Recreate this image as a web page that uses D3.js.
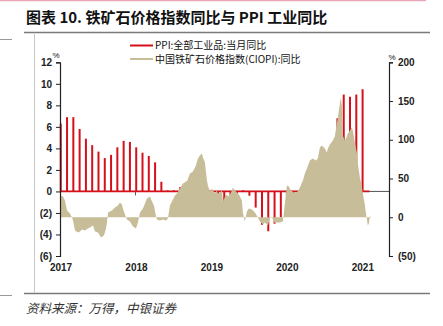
<!DOCTYPE html>
<html>
<head>
<meta charset="utf-8">
<script src="https://cdn.jsdelivr.net/npm/d3@7"></script>
<style>
	body { margin: 0; background: #fff; }
	text { font-family: "Liberation Sans", Arial, sans-serif; }
	.cjk { font-family: "Noto Sans CJK SC", sans-serif; }
</style>
</head>
<body>
<div id="chart"></div>
<script>
// ********** IRON ORE INDEX vs PPI CHART **********

// Axis ticks
const yearTicks = [2017, 2018, 2019, 2020, 2021];
const leftTicks = [12, 10, 8, 6, 4, 2, 0, -2, -4, -6];
const rightTicks = [200, 150, 100, 50, 0, -50];

// PPI monthly YoY (%) - one spike per month, first at the left edge
const ppiStart = 2017.01;
const ppiValues = [6.3, 6.9, 6.9, 5.8, 4.9, 4.3, 3.7, 3.1, 3.4, 4.1, 4.7, 4.6,
	4.1, 3.6, 3.3, 2.7, 0.9, 0.1, 0.1, 0.4, 0.9, 0.6, 0, -0.3,
	-0.8, -1.2, -1.6, -1.4, -0.5, 0.1, -0.4, -1.5, -3.1, -3.7, -3.0, -2.4,
	-2.0, -2.1, -2.1, -1.5, -0.4, 0.3, 1.7, 4.4, 6.8, 9.0, 8.8, 9.0, 9.5];
const ppiEnd = 2021.1;

// CIOPI YoY (%) - time as decimal year
const ciopiT = [2017.000, 2017.040, 2017.066, 2017.093, 2017.132, 2017.159, 2017.172, 2017.199, 2017.238, 2017.265,
	2017.291, 2017.331, 2017.371, 2017.397, 2017.437, 2017.464, 2017.503, 2017.543, 2017.583, 2017.609,
	2017.623, 2017.636, 2017.662, 2017.689, 2017.728, 2017.768, 2017.795, 2017.821, 2017.834, 2017.861,
	2017.887, 2017.927, 2017.967, 2018.007, 2018.033, 2018.060, 2018.099, 2018.126, 2018.152, 2018.192,
	2018.219, 2018.245, 2018.258, 2018.272, 2018.285, 2018.325, 2018.364, 2018.404, 2018.430, 2018.457,
	2018.483, 2018.523, 2018.550, 2018.589, 2018.629, 2018.682, 2018.722, 2018.762, 2018.801, 2018.828,
	2018.854, 2018.881, 2018.894, 2018.921, 2018.947, 2018.960, 2018.987, 2019.013, 2019.053, 2019.079,
	2019.093, 2019.119, 2019.146, 2019.159, 2019.199, 2019.238, 2019.278, 2019.291, 2019.318, 2019.344,
	2019.371, 2019.411, 2019.424, 2019.437, 2019.450, 2019.477, 2019.503, 2019.543, 2019.583, 2019.623,
	2019.649, 2019.689, 2019.715, 2019.755, 2019.781, 2019.808, 2019.834, 2019.874, 2019.914, 2019.954,
	2019.980, 2020.007, 2020.033, 2020.060, 2020.099, 2020.139, 2020.179, 2020.219, 2020.245, 2020.272,
	2020.311, 2020.351, 2020.391, 2020.417, 2020.444, 2020.470, 2020.510, 2020.536, 2020.550, 2020.576,
	2020.616, 2020.642, 2020.669, 2020.682, 2020.695, 2020.722, 2020.735, 2020.748, 2020.775, 2020.801,
	2020.815, 2020.841, 2020.868, 2020.881, 2020.907, 2020.934, 2020.947, 2020.974, 2021.000, 2021.013,
	2021.040, 2021.053, 2021.066, 2021.079, 2021.093, 2021.106, 2021.119];
const ciopiV = [28.0, 26.7, 21.6, 8.7, 4.8, -0.4, -4.3, -17.2, -19.8, -18.5,
	-15.9, -17.2, -14.6, -13.3, -10.7, -18.5, -19.8, -26.2, -23.6, -14.6,
	-6.8, 6.1, 7.4, 8.7, 12.5, 15.1, 19.0, 16.4, 11.2, 3.5,
	-3.0, -5.6, -12.0, -14.6, -6.8, 6.1, 11.2, 17.7, 24.2, 26.7,
	20.3, 15.1, 8.7, 0.9, -3.0, -4.3, -3.0, -4.3, -1.7, 15.1,
	20.3, 28.0, 30.6, 37.1, 43.5, 46.1, 56.5, 59.0, 66.8, 75.8,
	79.7, 82.3, 77.1, 70.7, 47.4, 41.0, 33.2, 37.1, 30.6, 34.5,
	30.6, 31.9, 34.5, 20.3, 29.3, 26.7, 34.5, 38.4, 34.5, 31.9,
	29.3, 21.6, 6.1, -0.4, -5.6, 7.4, 11.2, 9.9, 6.1, -0.4,
	-5.6, -9.4, -6.8, -10.7, -1.7, 0.9, -6.8, -6.8, -6.8, -5.6,
	17.7, 41.0, 39.7, 34.5, 31.9, 31.9, 38.4, 47.4, 56.5, 62.9,
	73.2, 75.8, 73.2, 75.8, 90.0, 92.6, 88.8, 83.6, 88.8, 93.9,
	99.1, 104.3, 121.1, 127.5, 137.9, 154.7, 144.3, 105.6, 99.1, 104.3,
	108.1, 112.0, 115.9, 112.0, 96.5, 83.6, 69.4, 51.3, 39.7, 30.6,
	16.4, 6.1, -1.7, -10.7, -8.1, -0.4, 2.2];

const legendLabels = ['PPI:全部工业品:当月同比', '中国铁矿石价格指数(CIOPI):同比'];
const titleText = '图表 10. 铁矿石价格指数同比与 PPI 工业同比';
const sourceText = '资料来源：万得，中银证券';

// Colours
const red = '#d6101a';
const tan = '#c7bd98';

const width = 443;
const height = 326;

// Plot frame
const plot = { left: 60, right: 389, top: 62.3, bottom: 256 };

const svg = d3.select('#chart')
	.append('svg')
	.attr('width', width)
	.attr('height', height);

// Scales
const x = d3.scaleLinear().domain([2017, 2021.36]).range([plot.left, plot.right]);
const yL = d3.scaleLinear().domain([-6, 12]).range([plot.bottom, plot.top]);
const yR = d3.scaleLinear().domain([-50, 200]).range([plot.bottom, plot.top]);

// Page decoration: header rule, frame lines
svg.append('line').attr('x1', 0).attr('x2', 426).attr('y1', 0.5).attr('y2', 0.5)
	.attr('stroke', '#e7a7b6').attr('stroke-width', 1.5);
svg.append('line').attr('x1', 24).attr('x2', 430).attr('y1', 32.5).attr('y2', 32.5)
	.attr('stroke', '#7a7a7a').attr('stroke-width', 1.5);
svg.append('line').attr('x1', 24).attr('x2', 430).attr('y1', 293.5).attr('y2', 293.5)
	.attr('stroke', '#7a7a7a').attr('stroke-width', 1.5);
svg.append('line').attr('x1', 34.5).attr('x2', 34.5).attr('y1', 34).attr('y2', 293)
	.attr('stroke', '#c8c8c8').attr('stroke-width', 1);
svg.append('line').attr('x1', 0).attr('x2', 12).attr('y1', 39.5).attr('y2', 39.5)
	.attr('stroke', '#999').attr('stroke-width', 1);
svg.append('line').attr('x1', 0).attr('x2', 12).attr('y1', 295.5).attr('y2', 295.5)
	.attr('stroke', '#999').attr('stroke-width', 1);

// Title
svg.append('text')
	.attr('class', 'cjk')
	.attr('x', 26)
	.attr('y', 23)
	.attr('font-size', '15px')
	.attr('font-weight', 'bold')
	.attr('fill', '#111')
	.text(titleText);

// Source note
svg.append('text')
	.attr('class', 'cjk')
	.attr('x', 26)
	.attr('y', 313)
	.attr('font-size', '12.5px')
	.attr('font-style', 'italic')
	.attr('fill', '#333')
	.text(sourceText);

// X axis baseline (left zero) running to the right axis
svg.append('line')
	.attr('x1', plot.left).attr('x2', plot.right)
	.attr('y1', yL(0)).attr('y2', yL(0))
	.attr('stroke', '#555').attr('stroke-width', 1);

svg.selectAll('line.xtick')
	.data(yearTicks.slice(1))
	.enter()
	.append('line')
	.attr('class', 'xtick')
	.attr('x1', d => x(d)).attr('x2', d => x(d))
	.attr('y1', yL(0)).attr('y2', yL(0) + 4)
	.attr('stroke', '#555');

// PPI spikes: a red line along zero with one spike per month
const ppiGroup = svg.append('g').attr('class', 'ppi');
ppiGroup.append('line')
	.attr('x1', x(2017)).attr('x2', x(ppiEnd))
	.attr('y1', yL(0)).attr('y2', yL(0))
	.attr('stroke', red).attr('stroke-width', 1.8);
ppiGroup.selectAll('line.spike')
	.data(ppiValues)
	.enter()
	.append('line')
	.attr('class', 'spike')
	.attr('x1', (d, i) => x(ppiStart + i / 12))
	.attr('x2', (d, i) => x(ppiStart + i / 12))
	.attr('y1', yL(0))
	.attr('y2', d => yL(d))
	.attr('stroke', red)
	.attr('stroke-width', 2);

// CIOPI area on the right axis, filled from its own zero
const ciopiData = ciopiT.map((t, i) => ({ t: t, v: ciopiV[i] }));
const area = d3.area()
	.x(d => x(d.t))
	.y0(yR(0))
	.y1(d => yR(d.v));
svg.append('path')
	.datum(ciopiData)
	.attr('d', area)
	.attr('fill', tan);

// Left axis
const leftAxis = svg.append('g')
	.attr('transform', `translate(${plot.left},0)`)
	.call(d3.axisLeft(yL).tickValues(leftTicks).tickSize(4).tickPadding(4)
		.tickFormat(d => d < 0 ? `(${-d})` : d));

// Right axis
const rightAxis = svg.append('g')
	.attr('transform', `translate(${plot.right},0)`)
	.call(d3.axisRight(yR).tickValues(rightTicks).tickSize(4).tickPadding(5)
		.tickFormat(d => d < 0 ? `(${-d})` : d));

[leftAxis, rightAxis].forEach(g => {
	g.select('.domain').attr('stroke', '#222').attr('stroke-width', 1.2);
	g.selectAll('.tick line').attr('stroke', '#222');
	g.selectAll('.tick text')
		.attr('font-family', '"Liberation Sans", Arial, sans-serif')
		.attr('font-size', '10px')
		.attr('font-weight', 'bold')
		.attr('fill', '#222');
});

// Unit marks
svg.append('text').attr('x', 56).attr('y', 58).attr('font-size', '8px')
	.attr('text-anchor', 'middle').attr('fill', '#111').text('%');
svg.append('text').attr('x', 392).attr('y', 60).attr('font-size', '8px')
	.attr('text-anchor', 'middle').attr('fill', '#111').text('%');

// Year labels
svg.selectAll('text.year')
	.data(yearTicks)
	.enter()
	.append('text')
	.attr('class', 'year')
	.attr('x', d => x(d) + 1)
	.attr('y', 271)
	.attr('text-anchor', 'middle')
	.attr('font-size', '10px')
	.attr('font-weight', 'bold')
	.attr('fill', '#222')
	.text(d => d);

// Legend
const legend = svg.append('g').attr('class', 'legendGroup');
const legendColors = [red, tan];
legend.selectAll('line.legend')
	.data(legendLabels)
	.enter()
	.append('line')
	.attr('class', 'legend')
	.attr('x1', 130).attr('x2', 153)
	.attr('y1', (d, i) => 45.5 + i * 13.5)
	.attr('y2', (d, i) => 45.5 + i * 13.5)
	.attr('stroke', (d, i) => legendColors[i])
	.attr('stroke-width', 2);
legend.selectAll('text.legend-text')
	.data(legendLabels)
	.enter()
	.append('text')
	.attr('class', 'legend-text cjk')
	.attr('x', 155)
	.attr('y', (d, i) => 45.5 + i * 13.5)
	.attr('dy', '0.35em')
	.attr('font-size', '10px')
	.attr('fill', '#111')
	.text(d => d);
</script>
</body>
</html>
